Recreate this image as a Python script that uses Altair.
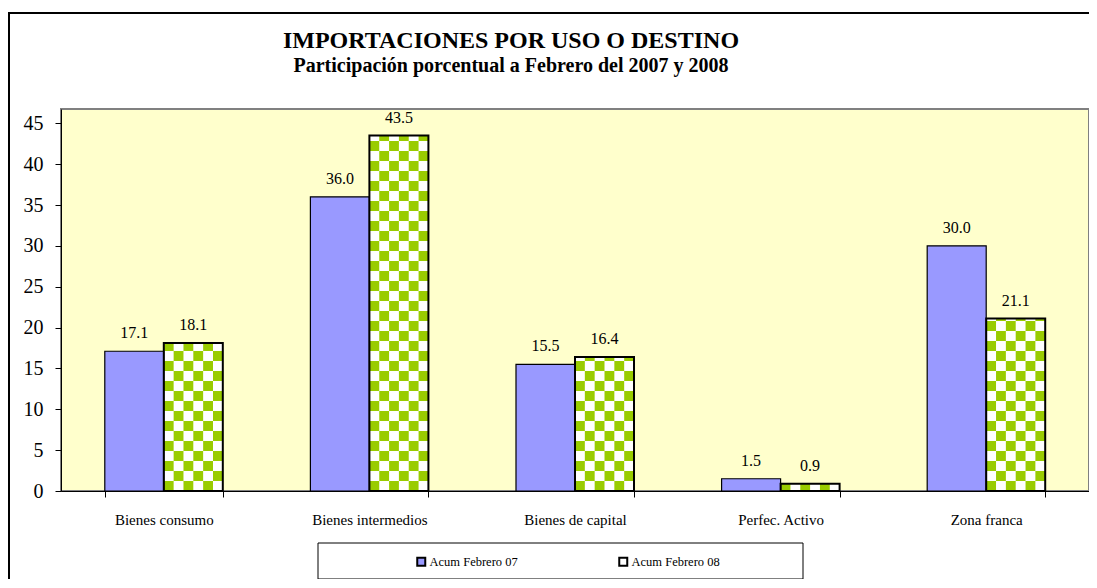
import altair as alt
import pandas as pd

categories = ["Bienes consumo", "Bienes intermedios", "Bienes de capital", "Perfec. Activo", "Zona franca"]
series = ["Acum Febrero 07", "Acum Febrero 08"]
values_07 = [17.1, 36.0, 15.5, 1.5, 30.0]
values_08 = [18.1, 43.5, 16.4, 0.9, 21.1]
y_ticks = [0, 5, 10, 15, 20, 25, 30, 35, 40, 45]
title_text = "IMPORTACIONES POR USO O DESTINO"
subtitle_text = "Participación porcentual a  Febrero del 2007 y 2008"

FONT = "Liberation Serif"
BLUE = "#9999FF"
GREEN = "#99CC00"
W, H = 1028, 382
Y_MAX = 46.75

rows = []
for c, v in zip(categories, values_07):
    rows.append({"cat": c, "series": series[0], "value": v})
for c, v in zip(categories, values_08):
    rows.append({"cat": c, "series": series[1], "value": v})
df = pd.DataFrame(rows)

# checker cells for the patterned series (pattern = style, derived from the 08 values)
NCOL = 6
CELL = 10 / (H / Y_MAX)
col_domain = [f"a{k}" for k in range(NCOL)] + [f"b{k}" for k in range(NCOL)]
cells = []
for c, v in zip(categories, values_08):
    r = 0
    while r * CELL < v:
        for k in range(NCOL):
            if (r + k) % 2 == 0:
                cells.append({"cat": c, "col": f"b{k}", "y0": r * CELL, "y1": min((r + 1) * CELL, v)})
        r += 1
cells_df = pd.DataFrame(cells)

x_scale = alt.Scale(domain=categories, paddingInner=0.426, paddingOuter=0.213)
y_scale = alt.Scale(domain=[0, Y_MAX], nice=False, zero=True)

x_enc = alt.X("cat:N", scale=x_scale, sort=categories, title=None,
              axis=alt.Axis(labelAngle=0, labelFont=FONT, labelFontSize=15, labelColor="black",
                            tickBand="extent", tickSize=6, tickColor="black",
                            domainColor="black", labelPadding=15))
y_enc = alt.Y("value:Q", scale=y_scale, title=None,
              axis=alt.Axis(values=y_ticks, grid=False, labelFont=FONT, labelFontSize=20,
                            labelColor="black", tickColor="black", tickSize=6,
                            domainColor="black", labelPadding=12))
band_off = alt.Scale(type="band", domain=series, paddingInner=0, paddingOuter=0)
xoff = alt.XOffset("series:N", scale=band_off)

base = alt.Chart(df)

bars = base.mark_bar(strokeWidth=0).encode(
    x=x_enc, y=y_enc, xOffset=xoff,
    color=alt.Color("series:N", scale=alt.Scale(domain=series, range=[BLUE, "#FFFFFF"]),
                    legend=alt.Legend(title=None, orient="none", direction="horizontal",
                                      legendX=354, legendY=446, symbolType="square",
                                      symbolSize=64, symbolStrokeColor="black",
                                      symbolStrokeWidth=2, labelFont=FONT, labelFontSize=12.5,
                                      labelColor="black", labelOffset=2, columnPadding=97,
                                      padding=0)),
)

checks = alt.Chart(cells_df).mark_bar(color=GREEN, strokeWidth=0).encode(
    x=alt.X("cat:N", scale=x_scale, sort=categories),
    xOffset=alt.XOffset("col:N", scale=alt.Scale(type="band", domain=col_domain, paddingInner=0, paddingOuter=0)),
    y=alt.Y("y0:Q", scale=y_scale),
    y2="y1:Q",
)

outline = base.mark_bar(fillOpacity=0, stroke="black").encode(
    x=alt.X("cat:N", scale=x_scale, sort=categories),
    y=alt.Y("value:Q", scale=y_scale),
    xOffset=xoff,
    strokeWidth=alt.condition(alt.datum.series == series[1], alt.value(2), alt.value(1.2)),
)

labels = base.mark_text(font=FONT, fontSize=16, baseline="alphabetic", dy=-13, color="black").encode(
    x=alt.X("cat:N", scale=x_scale, sort=categories, bandPosition=0),
    y=alt.Y("value:Q", scale=y_scale),
    xOffset=alt.XOffset("series:N", scale=band_off, bandPosition=0.5),
    text=alt.Text("value:Q", format=".1f"),
)

one = pd.DataFrame({"k": [0]})
frame = alt.Chart(one).mark_rect(fill=None, stroke="black", strokeWidth=2).encode(
    x=alt.value(-52), x2=alt.value(1100), y=alt.value(-96), y2=alt.value(600))
legend_box = alt.Chart(one).mark_rect(fill="white", stroke="black", strokeWidth=1).encode(
    x=alt.value(257), x2=alt.value(742), y=alt.value(434), y2=alt.value(470))
title_mark = alt.Chart(one).mark_text(text=title_text, font=FONT, fontSize=24, fontWeight="bold",
                                      align="center", baseline="alphabetic", color="black").encode(
    x=alt.value(450), y=alt.value(-61))
subtitle_mark = alt.Chart(one).mark_text(text=subtitle_text, font=FONT, fontSize=20, fontWeight="bold",
                                         align="center", baseline="alphabetic", color="black").encode(
    x=alt.value(450), y=alt.value(-37))

chart = alt.layer(frame, legend_box, bars, checks, outline, labels, title_mark, subtitle_mark).resolve_scale(
    xOffset="independent"
).properties(
    width=W, height=H,
    autosize=alt.AutoSizeParams(type="none"),
    padding={"left": 53, "top": 101, "right": 0, "bottom": 88},
    background="white",
).configure_view(fill="#FFFFCC", stroke="#808080", strokeWidth=2)

chart.save("out.html", embed_options={"renderer": "svg", "actions": False})
